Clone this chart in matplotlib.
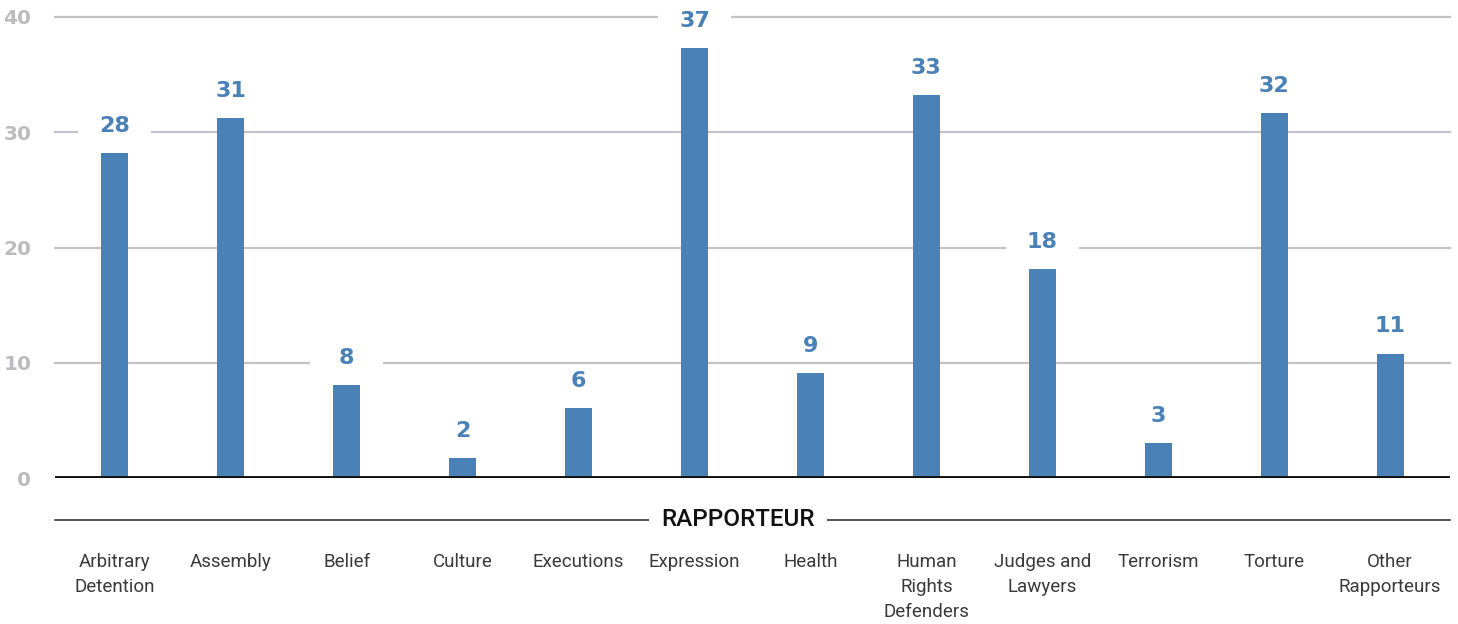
import matplotlib.pyplot as plt
import matplotlib.transforms as mtransforms
from matplotlib.patches import Rectangle

categories = ["Arbitrary\nDetention", "Assembly", "Belief", "Culture", "Executions",
              "Expression", "Health", "Human\nRights\nDefenders", "Judges and\nLawyers",
              "Terrorism", "Torture", "Other\nRapporteurs"]
# bar heights; labels show them rounded
values = [28.2, 31.2, 8.1, 1.75, 6.1, 37.3, 9.1, 33.2, 18.1, 3.05, 31.7, 10.8]
yticks = [0, 10, 20, 30, 40]

BLUE = "#4a81b6"
GRID = "#c3c3c7"
TICK = "#bcbcc0"

fig = plt.figure(figsize=(14.58, 6.24), dpi=100)
ax = fig.add_axes([55 / 1458, 1 - 478 / 624, 1395 / 1458, 461 / 624])

x = list(range(len(categories)))
ax.bar(x, values, width=0.233, color=BLUE, zorder=3)

ax.set_xlim(-0.517, len(categories) - 1 + 0.517)
ax.set_ylim(0, 40)

# gridlines
for t in yticks[1:]:
    ax.axhline(t, color=GRID, lw=1.6, zorder=1, clip_on=False)
ax.axhline(0, color="#111111", lw=2.8, zorder=4)

# value labels with white box cutting the gridlines
for i, v in zip(x, values):
    tr = fig.dpi_scale_trans + mtransforms.ScaledTranslation(i, v, ax.transData)
    ax.add_patch(Rectangle((-0.365, 0.15), 0.73, 0.25, transform=tr,
                           facecolor="white", edgecolor="none", zorder=2, clip_on=False))
    ax.annotate(str(round(v)), xy=(i, v), xytext=(0, 19.5), textcoords="offset points",
                ha="center", va="center", color=BLUE, fontsize=16, fontweight="bold",
                family="DejaVu Sans", zorder=5, annotation_clip=False)

for s in ax.spines.values():
    s.set_visible(False)

ax.set_yticks(yticks)
ax.set_yticklabels([str(t) for t in yticks], color=TICK, fontsize=14.5, fontweight="bold",
                   family="DejaVu Sans")
ax.tick_params(axis="y", length=0, pad=17)

ax.set_xticks(x)
ax.set_xticklabels(categories, fontsize=13.5, color="#3a3a3a", family="Roboto",
                   fontweight="normal", linespacing=1.5)
ax.tick_params(axis="x", length=0, pad=54)

# axis title line
fig.add_artist(plt.Line2D([55 / 1458, 1450 / 1458], [1 - 520 / 624] * 2,
                          color="#222222", lw=1.1))
fig.text(738 / 1458, 1 - 520 / 624, "RAPPORTEUR", ha="center", va="center",
         fontsize=17.5, fontweight="medium", family="Roboto", color="#111111",
         bbox=dict(facecolor="white", edgecolor="none", boxstyle="square,pad=0.5"))

fig.savefig("out.png", dpi=100, facecolor="white")
